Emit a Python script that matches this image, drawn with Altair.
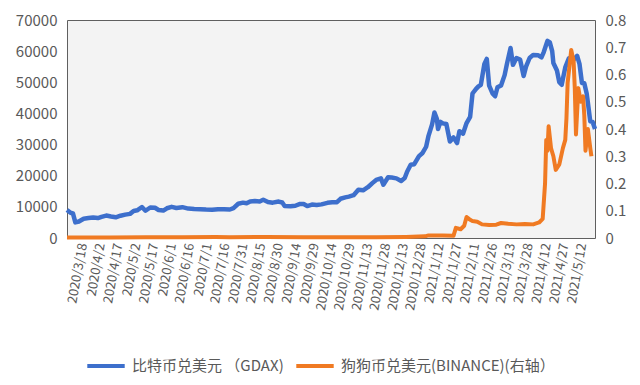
import altair as alt
import pandas as pd

# ---------------- data ----------------
btc_name = "比特币兑美元 （GDAX)"
doge_name = "狗狗币兑美元(BINANCE)(右轴）"

btc_dates = [
    "2020-03-05", "2020-03-08", "2020-03-10", "2020-03-12", "2020-03-15", "2020-03-19",
    "2020-03-23", "2020-03-27", "2020-03-31", "2020-04-03", "2020-04-07", "2020-04-11",
    "2020-04-15", "2020-04-19", "2020-04-23", "2020-04-27", "2020-04-30", "2020-05-03",
    "2020-05-07", "2020-05-10", "2020-05-14", "2020-05-18", "2020-05-21", "2020-05-25",
    "2020-05-28", "2020-06-01", "2020-06-05", "2020-06-10", "2020-06-15", "2020-06-20",
    "2020-06-25", "2020-06-30", "2020-07-05", "2020-07-10", "2020-07-15", "2020-07-20",
    "2020-07-23", "2020-07-27", "2020-07-31", "2020-08-03", "2020-08-06", "2020-08-10",
    "2020-08-14", "2020-08-17", "2020-08-21", "2020-08-25", "2020-08-30", "2020-09-02",
    "2020-09-04", "2020-09-09", "2020-09-13", "2020-09-17", "2020-09-20", "2020-09-23",
    "2020-09-27", "2020-10-01", "2020-10-05", "2020-10-10", "2020-10-14", "2020-10-18",
    "2020-10-21", "2020-10-25", "2020-10-28", "2020-11-01", "2020-11-05", "2020-11-09",
    "2020-11-13", "2020-11-17", "2020-11-20", "2020-11-24", "2020-11-26", "2020-11-30",
    "2020-12-03", "2020-12-07", "2020-12-11", "2020-12-14", "2020-12-16", "2020-12-19",
    "2020-12-22", "2020-12-26", "2020-12-29", "2021-01-01", "2021-01-03", "2021-01-06",
    "2021-01-08", "2021-01-10", "2021-01-11", "2021-01-13", "2021-01-15", "2021-01-18",
    "2021-01-21", "2021-01-24", "2021-01-27", "2021-01-29", "2021-02-01", "2021-02-04",
    "2021-02-07", "2021-02-09", "2021-02-12", "2021-02-14", "2021-02-16", "2021-02-19",
    "2021-02-21", "2021-02-23", "2021-02-26", "2021-02-28", "2021-03-02", "2021-03-05",
    "2021-03-08", "2021-03-10", "2021-03-13", "2021-03-15", "2021-03-18", "2021-03-21",
    "2021-03-24", "2021-03-26", "2021-03-29", "2021-04-01", "2021-04-05", "2021-04-08",
    "2021-04-10", "2021-04-13", "2021-04-15", "2021-04-17", "2021-04-18", "2021-04-21",
    "2021-04-23", "2021-04-25", "2021-04-28", "2021-05-01", "2021-05-03", "2021-05-05",
    "2021-05-08", "2021-05-10", "2021-05-12", "2021-05-14", "2021-05-16", "2021-05-17",
    "2021-05-19", "2021-05-21", "2021-05-23",
]
btc_values = [
    9000, 8100, 7900, 5000, 5300, 6200,
    6400, 6600, 6400, 6800, 7200, 6900,
    6650, 7150, 7500, 7750, 8650, 8900,
    9950, 8750, 9800, 9700, 9000, 8800,
    9550, 10000, 9650, 9900, 9450, 9300,
    9250, 9150, 9100, 9250, 9200, 9150,
    9600, 11000, 11350, 11150, 11750, 11850,
    11750, 12300, 11550, 11350, 11700, 11400,
    10300, 10200, 10350, 10950, 10900, 10250,
    10750, 10600, 10800, 11300, 11450, 11500,
    12600, 13050, 13300, 13750, 15500, 15300,
    16300, 17700, 18650, 19150, 17100, 19500,
    19400, 19150, 18300, 19250, 21300, 23500,
    23700, 26300, 27300, 29300, 32800, 36500,
    40300, 38300, 35000, 37300, 36800, 36600,
    31000, 32300, 30500, 34300, 33500, 36900,
    38900, 46400, 47900, 48700, 49200, 55900,
    57500, 48900, 46300, 45500, 48400, 49000,
    52300, 56000, 61000, 55600, 57800, 57300,
    52000, 55000, 57800, 58800, 58700, 58000,
    59800, 63300, 62800, 60000, 56200, 53800,
    50000, 49200, 54800, 57700, 56600, 57200,
    58500, 55800, 49800, 49700, 46400, 43500,
    37500, 37300, 35000,
]

doge_dates = [
    "2020-03-05", "2020-03-13", "2020-04-10", "2020-05-10", "2020-06-10", "2020-07-08",
    "2020-07-20", "2020-08-20", "2020-09-20", "2020-10-20", "2020-11-20", "2020-12-15",
    "2020-12-31", "2021-01-03", "2021-01-15", "2021-01-24", "2021-01-26", "2021-01-30",
    "2021-02-02", "2021-02-04", "2021-02-06", "2021-02-09", "2021-02-13", "2021-02-17",
    "2021-02-23", "2021-03-01", "2021-03-05", "2021-03-11", "2021-03-18", "2021-03-25",
    "2021-04-01", "2021-04-06", "2021-04-09", "2021-04-11", "2021-04-12", "2021-04-13",
    "2021-04-14", "2021-04-16", "2021-04-18", "2021-04-20", "2021-04-23", "2021-04-26",
    "2021-04-28", "2021-04-29", "2021-04-30", "2021-05-03", "2021-05-05", "2021-05-06",
    "2021-05-07", "2021-05-09", "2021-05-11", "2021-05-13", "2021-05-14", "2021-05-15",
    "2021-05-17", "2021-05-19", "2021-05-20",
]
doge_values = [
    0.0020, 0.0016, 0.0019, 0.0025, 0.0026, 0.0034,
    0.0032, 0.0034, 0.0027, 0.0026, 0.0031, 0.0040,
    0.0060, 0.0095, 0.0090, 0.0080, 0.037, 0.032,
    0.045, 0.077, 0.070, 0.062, 0.060, 0.050,
    0.048, 0.049, 0.055, 0.052, 0.050, 0.051,
    0.050, 0.057, 0.070, 0.200, 0.360, 0.320,
    0.410, 0.330, 0.300, 0.250, 0.270, 0.330,
    0.360, 0.440, 0.570, 0.690, 0.650, 0.550,
    0.380, 0.550, 0.500, 0.520, 0.450, 0.320,
    0.400, 0.330, 0.300,
]

tick_labels = [
    "2020/3/18", "2020/4/2", "2020/4/17", "2020/5/2", "2020/5/17", "2020/6/1",
    "2020/6/16", "2020/7/1", "2020/7/16", "2020/7/31", "2020/8/15", "2020/8/30",
    "2020/9/14", "2020/9/29", "2020/10/14", "2020/10/29", "2020/11/13", "2020/11/28",
    "2020/12/13", "2020/12/28", "2021/1/12", "2021/1/27", "2021/2/11", "2021/2/26",
    "2021/3/13", "2021/3/28", "2021/4/12", "2021/4/27", "2021/5/12",
]
left_ticks = [0, 10000, 20000, 30000, 40000, 50000, 60000, 70000]
right_ticks = [0, 0.1, 0.2, 0.3, 0.4, 0.5, 0.6, 0.7, 0.8]
x_start = "2020/3/5"
x_end = "2021/5/23"

# ---------------- chart ----------------
FONT = "Noto Sans CJK SC"
GREY = "#595959"
BLUE = "#3d6fcc"
ORANGE = "#f07a22"


def dt(s):
    y, m, d = (int(v) for v in s.split("/"))
    return alt.DateTime(year=y, month=m, date=d)


btc_df = pd.DataFrame({"date": pd.to_datetime(btc_dates), "value": btc_values, "series": btc_name})
doge_df = pd.DataFrame({"date": pd.to_datetime(doge_dates), "value": doge_values, "series": doge_name})

x_enc = alt.X(
    "date:T",
    scale=alt.Scale(domain=[dt(x_start), dt(x_end)]),
    axis=alt.Axis(
        values=[dt(t) for t in tick_labels],
        format="%Y/%-m/%-d",
        labelAngle=-80,
        labelOverlap=False,
        labelFontSize=13,
        labelColor=GREY,
        labelFont=FONT,
        labelPadding=5,
        ticks=False,
        domain=False,
        grid=False,
        title=None,
    ),
)

color_enc = alt.Color(
    "series:N",
    scale=alt.Scale(domain=[btc_name, doge_name], range=[BLUE, ORANGE]),
    legend=alt.Legend(
        orient="none",
        legendX=18,
        legendY=325,
        direction="horizontal",
        columns=2,
        title=None,
        symbolType="stroke",
        symbolStrokeWidth=4,
        symbolSize=1400,
        labelFontSize=15,
        labelColor=GREY,
        labelFont=FONT,
        labelLimit=400,
        labelOffset=5,
        columnPadding=4,
        padding=0,
    ),
)

btc_line = alt.Chart(btc_df).mark_line(strokeWidth=4.5, strokeJoin="round").encode(
    x=x_enc,
    y=alt.Y(
        "value:Q",
        scale=alt.Scale(domain=[0, 70000], nice=False),
        axis=alt.Axis(
            orient="left",
            values=left_ticks,
            format="d",
            labelFontSize=15,
            labelColor=GREY,
            labelFont=FONT,
            labelPadding=10,
            ticks=False,
            domain=False,
            grid=False,
            title=None,
        ),
    ),
    color=color_enc,
)

doge_line = alt.Chart(doge_df).mark_line(strokeWidth=4, strokeJoin="round").encode(
    x=x_enc,
    y=alt.Y(
        "value:Q",
        scale=alt.Scale(domain=[0, 0.8], nice=False),
        axis=alt.Axis(
            orient="right",
            values=right_ticks,
            format="~g",
            labelFontSize=15,
            labelColor=GREY,
            labelFont=FONT,
            labelPadding=10,
            ticks=False,
            domain=False,
            grid=False,
            title=None,
        ),
    ),
    color=color_enc,
)

chart = (
    alt.layer(btc_line, doge_line)
    .resolve_scale(y="independent")
    .properties(
        width=528,
        height=218,
        autosize=alt.AutoSizeParams(type="none"),
        padding={"left": 59, "top": 12, "right": 37, "bottom": 139},
    )
    .configure(font=FONT, background="white")
    .configure_view(fill="#f3f3f3", stroke="#5f5f5f", strokeWidth=1)
)

chart.save("out.html", embed_options={"renderer": "svg", "actions": False})
